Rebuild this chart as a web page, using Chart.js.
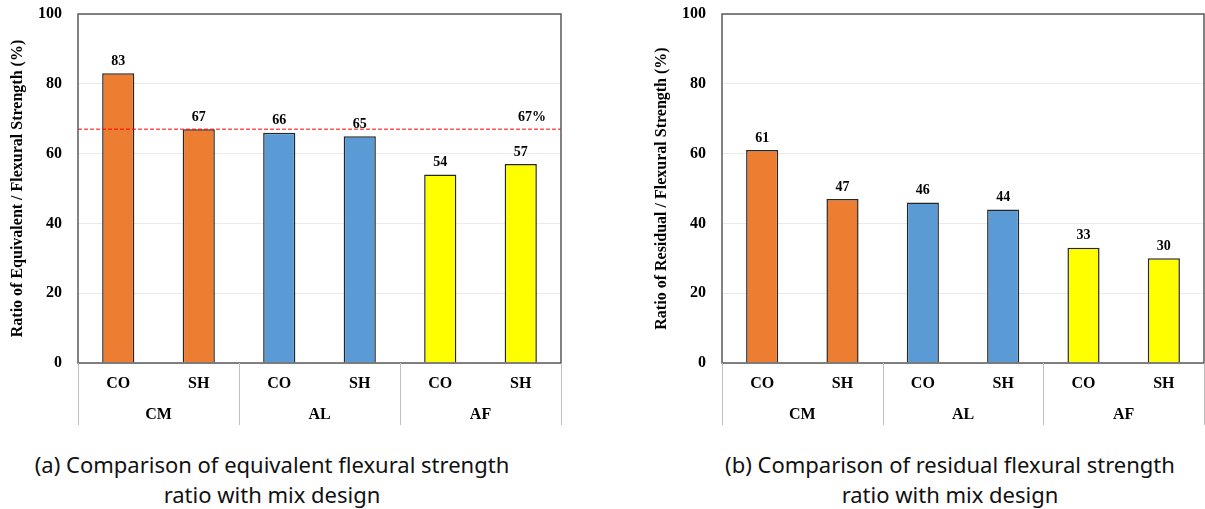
<!DOCTYPE html>
<html>
<head>
<meta charset="utf-8">
<script src="https://cdn.jsdelivr.net/npm/chart.js@4"></script>
<style>
  body { margin: 0; background: #fff; width: 1205px; height: 509px; position: relative; overflow: hidden; }
  .box { position: absolute; top: 0; height: 435px; }
  .cap { position: absolute; width: 560px; text-align: center; font-family: "Noto Sans", sans-serif; font-size: 22px; line-height: 30px; color: #111; }
  .cap span { display: inline-block; transform: scaleX(1.0); white-space: nowrap; }
</style>
</head>
<body>
<div class="box" style="left:0;width:562px"><canvas id="chartA"></canvas></div>
<div class="box" style="left:644px;width:561px"><canvas id="chartB"></canvas></div>
<div class="cap" style="left:-8px;top:449px"><span>(a) Comparison of equivalent flexural strength</span><br><span>ratio with mix design</span></div>
<div class="cap" style="left:670px;top:449px"><span>(b) Comparison of residual flexural strength</span><br><span>ratio with mix design</span></div>
<script>
// Datos
const categorias = ['CO', 'SH', 'CO', 'SH', 'CO', 'SH'];
const grupos = ['CM', 'AL', 'AF'];
const coloresGrupo = ['#ED7D31', '#5B9BD5', '#FFFF00'];
const equivalente = [83, 67, 66, 65, 54, 57];
const residual = [61, 47, 46, 44, 33, 30];
const referencia = 67;
const ticksY = [0, 20, 40, 60, 80, 100];

const serif = '"Liberation Serif", "Times New Roman", serif';
const coloresBarras = categorias.map((c, i) => coloresGrupo[Math.floor(i / 2)]);

// Etiquetas, linea de referencia, marco y grupos del eje x
const decorPlugin = {
  id: 'decor',
  afterDatasetsDraw(chart, args, opts) {
    const { ctx, chartArea: a, scales: { x, y } } = chart;
    ctx.save();

    // linea roja punteada
    if (opts.ref != null) {
      const yr = y.getPixelForValue(opts.ref);
      ctx.strokeStyle = '#FF0000';
      ctx.lineWidth = 1;
      ctx.setLineDash([4, 2]);
      ctx.beginPath();
      ctx.moveTo(a.left, yr);
      ctx.lineTo(a.right, yr);
      ctx.stroke();
      ctx.setLineDash([]);
      ctx.font = 'bold 14px ' + serif;
      ctx.fillStyle = '#000';
      ctx.textAlign = 'right';
      ctx.textBaseline = 'bottom';
      ctx.fillText(opts.ref + '%', a.right - 15, yr - 5);
    }

    // valores encima de las barras
    ctx.font = 'bold 14px ' + serif;
    ctx.fillStyle = '#000';
    ctx.textAlign = 'center';
    ctx.textBaseline = 'bottom';
    const meta = chart.getDatasetMeta(0);
    meta.data.forEach((bar, i) => {
      ctx.fillText(chart.data.datasets[0].data[i], bar.x, bar.y - 5);
    });

    // marco del area de trazado
    ctx.strokeStyle = '#595959';
    ctx.lineWidth = 1.5;
    ctx.strokeRect(a.left, a.top, a.right - a.left, a.bottom - a.top);

    // separadores y nombres de grupo
    ctx.strokeStyle = '#BFBFBF';
    ctx.lineWidth = 1;
    const bordes = [a.left];
    for (let g = 1; g < grupos.length; g++) {
      bordes.push((x.getPixelForValue(g * 2 - 1) + x.getPixelForValue(g * 2)) / 2);
    }
    bordes.push(a.right);
    bordes.forEach(px => {
      ctx.beginPath();
      ctx.moveTo(Math.round(px) + 0.5, a.bottom);
      ctx.lineTo(Math.round(px) + 0.5, a.bottom + 62);
      ctx.stroke();
    });
    ctx.font = 'bold 16px ' + serif;
    ctx.textBaseline = 'middle';
    grupos.forEach((g, i) => {
      const cx = (x.getPixelForValue(i * 2) + x.getPixelForValue(i * 2 + 1)) / 2;
      ctx.fillText(g, cx, a.bottom + 52);
    });
    ctx.restore();
  }
};

function crearGrafico(id, valores, tituloY, ref) {
  return new Chart(document.getElementById(id), {
    type: 'bar',
    data: {
      labels: categorias,
      datasets: [{
        data: valores,
        backgroundColor: coloresBarras,
        borderColor: '#262626',
        borderWidth: 1.5,
        barPercentage: 0.4,
        categoryPercentage: 1.0
      }]
    },
    options: {
      responsive: true,
      maintainAspectRatio: false,
      animation: false,
      layout: { padding: { top: 14, right: 1, left: 0, bottom: 0 } },
      plugins: {
        legend: { display: false },
        tooltip: { enabled: false },
        decor: { ref: ref }
      },
      scales: {
        x: {
          grid: { display: false, drawTicks: false },
          border: { display: false },
          ticks: { color: '#000', padding: 11, font: { family: serif, weight: 'bold', size: 16 } },
          afterFit: s => { s.height = 72; s.paddingTop = 0; }
        },
        y: {
          min: 0,
          max: 100,
          afterBuildTicks: s => { s.ticks = ticksY.map(v => ({ value: v })); },
          grid: { color: '#EBEBEB', drawTicks: false },
          border: { display: false },
          ticks: { color: '#000', padding: 16, font: { family: serif, weight: 'bold', size: 16 } },
          title: {
            display: true,
            text: tituloY,
            color: '#000',
            padding: { top: 8, bottom: 0 },
            font: { family: serif, weight: 'bold', size: 16 }
          },
          afterFit: s => { s.width = 78; s.paddingTop = 0; s.paddingBottom = 0; }
        }
      }
    },
    plugins: [decorPlugin]
  });
}

crearGrafico('chartA', equivalente, 'Ratio of Equivalent / Flexural Strength (%)', referencia);
crearGrafico('chartB', residual, 'Ratio of Residual / Flexural Strength (%)', null);
</script>
</body>
</html>
